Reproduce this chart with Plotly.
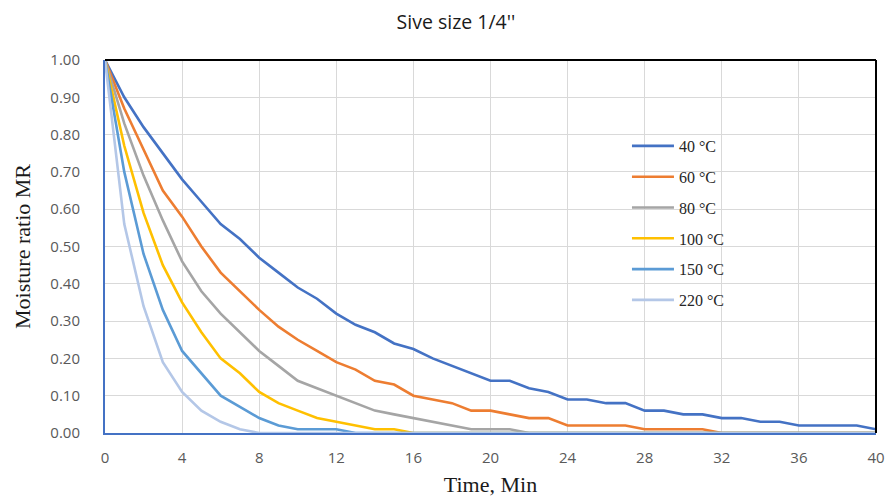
import plotly.graph_objects as go

time_min = list(range(0, 41))
labels = ["40 °C", "60 °C", "80 °C", "100 °C", "150 °C", "220 °C"]
colors = ["#4472C4", "#ED7D31", "#A5A5A5", "#FFC000", "#5B9BD5", "#B4C7E7"]

mr_40 = [1.00, 0.90, 0.82, 0.75, 0.68, 0.62, 0.56, 0.52, 0.47, 0.43, 0.39, 0.36, 0.32, 0.29,
         0.27, 0.24, 0.225, 0.20, 0.18, 0.16, 0.14, 0.14, 0.12, 0.11, 0.09, 0.09, 0.08, 0.08,
         0.06, 0.06, 0.05, 0.05, 0.04, 0.04, 0.03, 0.03, 0.02, 0.02, 0.02, 0.02, 0.01]
mr_60 = [1.00, 0.87, 0.76, 0.65, 0.58, 0.50, 0.43, 0.38, 0.33, 0.285, 0.25, 0.22, 0.19, 0.17,
         0.14, 0.13, 0.10, 0.09, 0.08, 0.06, 0.06, 0.05, 0.04, 0.04, 0.02, 0.02, 0.02, 0.02,
         0.01, 0.01, 0.01, 0.01, 0.00, 0.00, 0.00, 0.00, 0.00, 0.00, 0.00, 0.00, 0.00]
mr_80 = [1.00, 0.83, 0.69, 0.57, 0.46, 0.38, 0.32, 0.27, 0.22, 0.18, 0.14, 0.12, 0.10, 0.08,
         0.06, 0.05, 0.04, 0.03, 0.02, 0.01, 0.01, 0.01, 0.00, 0.00, 0.00, 0.00, 0.00, 0.00,
         0.00, 0.00, 0.00, 0.00, 0.00, 0.00, 0.00, 0.00, 0.00, 0.00, 0.00, 0.00, 0.00]
mr_100 = [1.00, 0.77, 0.59, 0.45, 0.35, 0.27, 0.20, 0.16, 0.11, 0.08, 0.06, 0.04, 0.03, 0.02,
          0.01, 0.01, 0.00, 0.00, 0.00, 0.00, 0.00, 0.00, 0.00, 0.00, 0.00, 0.00, 0.00, 0.00,
          0.00, 0.00, 0.00, 0.00, 0.00, 0.00, 0.00, 0.00, 0.00, 0.00, 0.00, 0.00, 0.00]
mr_150 = [1.00, 0.70, 0.48, 0.33, 0.22, 0.16, 0.10, 0.07, 0.04, 0.02, 0.01, 0.01, 0.01, 0.00,
          0.00, 0.00, 0.00, 0.00, 0.00, 0.00, 0.00, 0.00, 0.00, 0.00, 0.00, 0.00, 0.00, 0.00,
          0.00, 0.00, 0.00, 0.00, 0.00, 0.00, 0.00, 0.00, 0.00, 0.00, 0.00, 0.00, 0.00]
mr_220 = [1.00, 0.56, 0.34, 0.19, 0.11, 0.06, 0.03, 0.01, 0.00, 0.00, 0.00, 0.00, 0.00, 0.00,
          0.00, 0.00, 0.00, 0.00, 0.00, 0.00, 0.00, 0.00, 0.00, 0.00, 0.00, 0.00, 0.00, 0.00,
          0.00, 0.00, 0.00, 0.00, 0.00, 0.00, 0.00, 0.00, 0.00, 0.00, 0.00, 0.00, 0.00]

series = [mr_40, mr_60, mr_80, mr_100, mr_150, mr_220]

fig = go.Figure()
for name, col, vals in zip(labels, colors, series):
    fig.add_trace(go.Scatter(x=time_min, y=vals, mode="lines", name=name,
                             legendgroup=name,
                             line=dict(color=col, width=2.6), cliponaxis=False))

fig.update_layout(
    width=894, height=497,
    margin=dict(l=105, r=18, t=60, b=64),
    paper_bgcolor="white", plot_bgcolor="white",
    title=dict(text="Sive size 1/4''", x=0.51, xanchor="center", y=0.955, yanchor="middle",
               font=dict(family="Open Sans, Arial", size=19.5, color="#1a1a1a")),
    legend=dict(x=0.677, y=0.815, xanchor="left", yanchor="top",
                bgcolor="rgba(0,0,0,0)", tracegroupgap=7, itemwidth=42,
                font=dict(family="Liberation Serif, Times New Roman", size=16, color="#262626")),
    showlegend=True,
)
fig.update_xaxes(range=[0, 40], dtick=4, tick0=0, showgrid=True, gridcolor="#D9D9D9", gridwidth=1,
                 zeroline=False, showline=True, linecolor="#4472C4", linewidth=2,
                 ticks="", ticklabelstandoff=10, automargin=False,
                 tickfont=dict(family="Open Sans, Arial", size=15, color="#595959"),
                 title=dict(text="Time, Min", standoff=12,
                            font=dict(family="Liberation Serif, Times New Roman", size=22, color="#1a1a1a")))
fig.update_yaxes(range=[0, 1.0], dtick=0.1, tick0=0, tickformat=".2f", showgrid=True,
                 gridcolor="#D9D9D9", gridwidth=1, zeroline=False, showline=True,
                 linecolor="#4472C4", linewidth=2, ticks="", ticklabelstandoff=20, automargin=False,
                 tickfont=dict(family="Open Sans, Arial", size=15, color="#595959"),
                 title=dict(text="Moisture ratio MR", standoff=14,
                            font=dict(family="Liberation Serif, Times New Roman", size=22, color="#1a1a1a")))
# black frame on top and right
fig.add_shape(type="line", xref="paper", yref="paper", x0=0, x1=1, y0=1, y1=1,
              line=dict(color="#000000", width=2))
fig.add_shape(type="line", xref="paper", yref="paper", x0=1, x1=1, y0=0, y1=1,
              line=dict(color="#000000", width=2))

fig.write_html("out.html")
